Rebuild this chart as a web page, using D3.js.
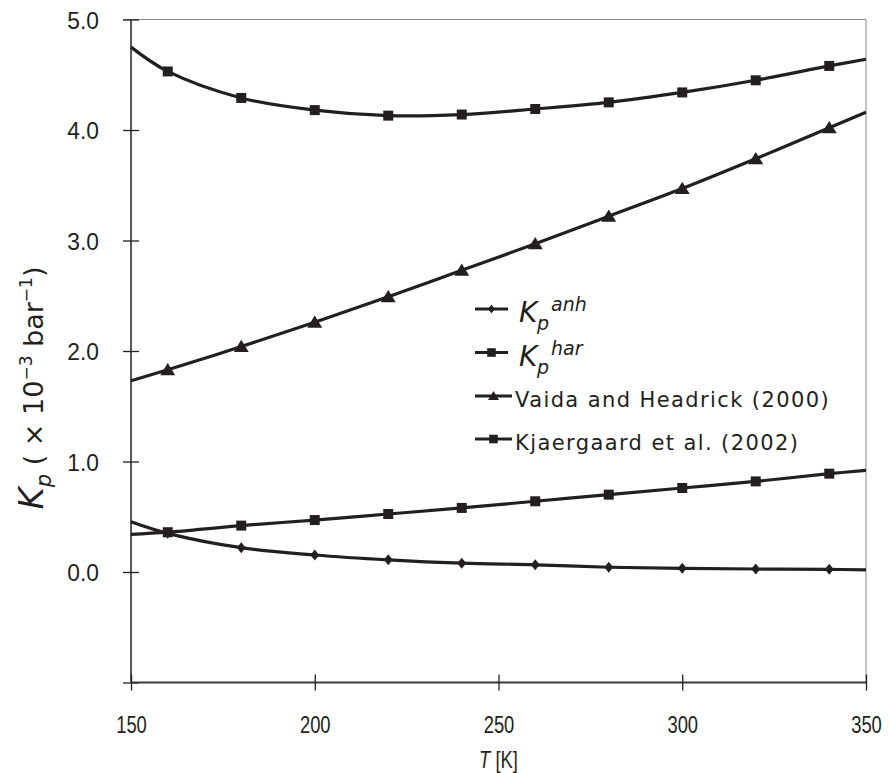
<!DOCTYPE html>
<html>
<head>
<meta charset="utf-8">
<script src="https://cdn.jsdelivr.net/npm/d3@7/dist/d3.min.js"></script>
<style>
  body { margin: 0; background: #fff; }
  svg { display: block; }
  .axis .tick text { font-family: "Liberation Sans", Arial, sans-serif; fill: #231f20; }
  .legend text { font-family: "DejaVu Sans", sans-serif; fill: #231f20; }
</style>
</head>
<body>
<div id="chart"></div>
<script>
// temperatures (K); markers only on the inner points
var temps = [150, 160, 180, 200, 220, 240, 260, 280, 300, 320, 340, 350];
var kpAnh = [0.455, 0.35, 0.22, 0.154, 0.11, 0.08, 0.065, 0.043, 0.033, 0.027, 0.024, 0.02];
var kpHar = [0.34, 0.36, 0.42, 0.47, 0.525, 0.58, 0.64, 0.70, 0.76, 0.82, 0.89, 0.92];
var vaida = [1.73, 1.83, 2.04, 2.26, 2.49, 2.73, 2.97, 3.22, 3.47, 3.74, 4.02, 4.16];
var kjaer = [4.75, 4.53, 4.29, 4.18, 4.13, 4.14, 4.19, 4.25, 4.34, 4.45, 4.58, 4.64];
var xTicks = [150, 200, 250, 300, 350];
var yTicks = [-1, 0, 1, 2, 3, 4, 5];
var seriesNames = ["anh", "har", "Vaida and Headrick (2000)", "Kjaergaard et al. (2002)"];
var seriesMarkers = ["diamond", "square", "triangle", "square"];

var width = 889, height = 773;
var margin = {top: 19.5, right: 23, bottom: 90.5, left: 131};
var ink = '#231f20';

var svg = d3.select('#chart').append('svg')
	.attr('width', width)
	.attr('height', height);

var plot = svg.append('g')
	.attr('transform', 'translate(' + margin.left + ',' + margin.top + ')');

var w = width - margin.left - margin.right;
var h = height - margin.top - margin.bottom;

var xScale = d3.scaleLinear().domain([150, 350]).range([0, w]);
var yScale = d3.scaleLinear().domain([-1, 5]).range([h, 0]);

//top and right frame
plot.append('path')
	.attr('d', 'M-8,0H' + w + 'V' + h)
	.attr('fill', 'none')
	.attr('stroke', '#8a8a8a')
	.attr('stroke-width', 1);

//axes
var yAxis = plot.append('g')
	.attr('class', 'y axis')
	.call(d3.axisLeft(yScale).tickValues(yTicks).tickSize(8).tickPadding(0)
		.tickFormat(function(d) { return d < 0 ? '' : d3.format('.1f')(d); }));
yAxis.selectAll('.tick line').attr('x2', 8).attr('x1', -8).attr('stroke', ink).attr('stroke-width', 1.3);
yAxis.select('.domain').attr('d', 'M0,0V' + h).attr('stroke', ink).attr('stroke-width', 1.5);
yAxis.selectAll('.tick text')
	.attr('font-size', 24)
	.attr('x', -32 / 0.95)
	.attr('dy', '0.36em')
	.attr('transform', 'scale(0.95,1)');

var xAxis = plot.append('g')
	.attr('class', 'x axis')
	.attr('transform', 'translate(0,' + h + ')')
	.call(d3.axisBottom(xScale).tickValues(xTicks).tickSize(8).tickPadding(0));
xAxis.selectAll('.tick line').attr('y1', -8).attr('y2', 8).attr('stroke', ink).attr('stroke-width', 1.3);
xAxis.select('.domain').attr('d', 'M0,0H' + w).attr('stroke', '#3a3a3a').attr('stroke-width', 2);
xAxis.selectAll('.tick text')
	.attr('font-size', 23)
	.attr('y', 51)
	.attr('dy', 0)
	.attr('transform', 'scale(0.8,1)');

//series
var line = d3.line()
	.x(function(d) { return xScale(d.t); })
	.y(function(d) { return yScale(d.v); })
	.curve(d3.curveCatmullRom.alpha(0.5));

var symbols = {
	diamond: function(s) { return 'M0,' + (-s) + 'L' + (s * 0.8) + ',0L0,' + s + 'L' + (-s * 0.8) + ',0Z'; },
	square: function(s) { return 'M' + (-s) + ',' + (-s) + 'H' + s + 'V' + s + 'H' + (-s) + 'Z'; },
	triangle: function(s) { return 'M0,' + (-s) + 'L' + (s * 1.1) + ',' + (s * 0.8) + 'H' + (-s * 1.1) + 'Z'; }
};
var markerSize = {diamond: 5.5, square: 5, triangle: 6.8};

[kpAnh, kpHar, vaida, kjaer].forEach(function(vals, i) {
	var data = temps.map(function(t, j) { return {t: t, v: vals[j]}; });
	plot.append('path')
		.datum(data)
		.attr('d', line)
		.attr('fill', 'none')
		.attr('stroke', ink)
		.attr('stroke-width', 3.2);
	var m = seriesMarkers[i];
	plot.selectAll('.mk' + i)
		.data(data.slice(1, -1))
		.enter().append('path')
		.attr('class', 'mk' + i)
		.attr('transform', function(d) { return 'translate(' + xScale(d.t) + ',' + yScale(d.v) + ')'; })
		.attr('d', symbols[m](markerSize[m]))
		.attr('fill', ink);
});

//legend
var legend = svg.append('g').attr('class', 'legend');
var rowY = [309, 352.5, 396, 439];
var legMark = {diamond: 4.2, square: 4.3, triangle: 5};
seriesNames.forEach(function(name, i) {
	var g = legend.append('g').attr('transform', 'translate(0,' + rowY[i] + ')');
	var x0 = 475, x1 = i < 2 ? 508 : 512;
	g.append('line').attr('x1', x0).attr('x2', x1).attr('y1', 0).attr('y2', 0)
		.attr('stroke', ink).attr('stroke-width', 3.2);
	g.append('path')
		.attr('transform', 'translate(' + ((x0 + x1) / 2) + ',0)')
		.attr('d', symbols[seriesMarkers[i]](legMark[seriesMarkers[i]]))
		.attr('fill', ink);
	if (i < 2) {
		var t = g.append('text').attr('font-style', 'italic');
		t.append('tspan').attr('x', 519).attr('y', 13).attr('font-size', 28).text('K');
		t.append('tspan').attr('x', 537).attr('y', 21).attr('font-size', 19).text('p');
		t.append('tspan').attr('x', 551).attr('y', 2).attr('font-size', 19).text(name);
	} else {
		g.append('text')
			.attr('x', 515).attr('y', 11)
			.attr('font-size', 21)
			.attr('letter-spacing', 1.4)
			.text(name);
	}
});

//axis titles
var xt = svg.append('text')
	.attr('transform', 'translate(' + (margin.left + w / 2) + ',768) scale(0.8,1)')
	.attr('text-anchor', 'middle')
	.attr('font-family', 'Liberation Sans, Arial, sans-serif')
	.attr('font-size', 23)
	.attr('fill', ink);
xt.append('tspan').attr('font-style', 'italic').text('T');
xt.append('tspan').text(' [K]');

var yt = svg.append('text')
	.attr('transform', 'translate(43,388) rotate(-90)')
	.attr('text-anchor', 'middle')
	.attr('font-family', 'DejaVu Sans, sans-serif')
	.attr('font-size', 27)
	.attr('fill', ink);
yt.append('tspan').attr('font-style', 'italic').attr('font-size', 34).text('K');
yt.append('tspan').attr('font-style', 'italic').attr('font-size', 21).attr('dy', 8).text('p');
yt.append('tspan').attr('dy', -8).text(' ( \u00d7 10');
yt.append('tspan').attr('font-size', 17).attr('dy', -11).text('\u22123');
yt.append('tspan').attr('dy', 11).text(' bar');
yt.append('tspan').attr('font-size', 17).attr('dy', -11).text('\u22121');
yt.append('tspan').attr('dy', 11).text(')');
</script>
</body>
</html>
